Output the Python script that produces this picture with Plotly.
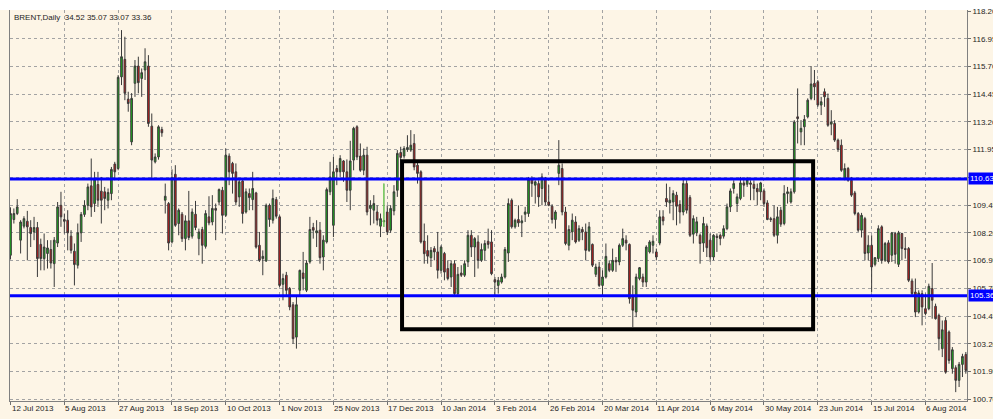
import plotly.graph_objects as go

# ---------------- data ----------------
# daily bars, index 0 = 12 Jul 2013
opens = [
107.19,108.80,109.07,107.87,108.50,108.72,108.44,108.24,108.44,107.68,
107.04,107.27,107.45,106.81,107.74,109.44,108.80,108.77,108.05,107.37,
106.74,108.20,109.03,109.44,110.32,109.52,110.38,110.08,110.05,109.67,
109.97,111.30,111.10,115.23,116.02,114.23,112.30,114.94,115.72,115.16,
115.54,115.72,113.01,111.40,111.62,112.86,109.67,109.52,107.79,110.84,
108.62,109.04,107.94,108.74,108.05,109.04,107.94,108.35,107.59,108.92,
108.69,109.30,109.59,110.12,108.99,111.66,111.33,110.95,109.82,110.54,
109.14,109.97,109.70,110.00,107.64,107.04,106.93,109.44,108.77,109.70,
108.92,105.88,106.29,105.69,104.96,103.50,105.61,106.39,105.61,106.89,
108.44,108.20,108.32,107.11,107.79,110.05,108.54,111.10,110.95,111.44,
110.95,110.12,111.48,112.98,111.66,111.02,111.70,109.30,109.22,109.14,
108.50,108.70,109.14,108.32,109.19,110.12,111.82,111.66,111.96,111.93,
112.23,111.25,110.95,107.83,107.40,107.08,107.49,107.34,106.51,107.27,
106.59,106.21,106.81,105.46,106.39,106.29,106.89,108.09,107.56,107.79,
106.96,107.41,107.82,107.79,106.09,105.83,105.98,106.21,107.29,109.67,
108.47,108.80,108.65,109.04,109.07,110.60,110.35,110.42,110.20,110.60,
109.59,109.40,108.80,110.88,111.10,109.14,107.64,108.24,108.69,107.87,
108.35,108.24,107.41,107.68,106.33,106.66,105.83,106.21,106.81,106.51,
106.96,106.89,107.64,107.87,107.68,105.31,104.63,106.14,106.21,105.98,
107.34,107.64,107.34,107.74,108.92,109.75,109.55,109.59,109.90,109.48,
109.14,110.42,109.79,108.14,108.20,108.09,107.74,108.51,107.87,107.11,
108.05,108.09,108.05,108.39,109.37,110.20,109.52,109.75,110.45,110.39,
110.45,110.39,110.20,110.05,110.09,109.55,108.84,108.84,108.09,109.22,
108.62,109.97,109.59,110.05,113.43,112.75,112.98,113.43,114.26,114.94,
115.01,113.96,114.56,114.26,113.10,113.13,112.38,112.15,110.65,111.10,
110.57,110.00,109.07,108.32,108.84,107.29,107.64,106.78,107.04,108.47,
106.96,107.75,107.19,108.17,106.78,108.17,107.49,107.49,106.03,105.53,
104.63,105.46,104.78,104.78,105.69,104.89,104.48,102.98,104.25,103.73,
102.08,102.12,101.55,102.27,102.72,
]
highs = [
109.35,109.30,109.72,108.77,108.95,109.19,108.77,108.92,108.69,107.94,
108.17,107.87,107.87,108.01,109.59,110.05,109.07,109.22,108.32,107.72,
108.62,109.14,109.67,110.42,111.55,110.95,110.95,110.72,110.27,110.20,
111.17,111.40,115.31,117.34,117.04,114.56,114.50,115.99,116.14,115.61,
116.52,116.21,113.58,111.78,113.05,112.98,110.42,109.59,111.06,111.25,
109.30,109.14,108.99,110.09,109.30,109.64,108.39,108.47,109.22,109.85,
109.90,109.52,110.20,110.27,112.00,111.78,111.40,111.33,110.65,110.65,
110.20,110.20,110.95,110.05,108.24,107.41,109.52,109.52,110.15,109.82,
108.99,106.36,106.44,105.76,105.08,105.31,106.54,107.34,106.96,108.92,
108.65,108.77,108.69,108.09,110.24,111.40,111.62,111.25,111.70,111.48,
111.51,112.35,112.98,113.05,112.23,112.00,112.08,109.67,109.90,109.44,
109.07,110.42,109.44,109.44,110.35,111.93,112.08,112.11,112.60,112.83,
112.65,111.40,111.02,108.62,108.09,107.56,107.60,108.24,107.64,107.34,
106.96,106.96,106.96,106.66,106.74,106.96,108.32,108.32,108.01,108.09,
107.72,107.87,108.39,108.32,106.21,106.21,106.36,107.56,109.75,109.75,
108.84,109.44,108.99,109.37,110.72,110.75,110.57,110.57,110.88,110.72,
110.35,109.49,109.22,112.38,111.33,109.37,108.54,109.07,108.95,108.54,
108.47,108.62,108.69,107.72,106.81,106.89,106.51,107.72,106.96,107.49,
107.11,107.72,108.39,108.09,107.72,105.83,106.36,106.66,106.36,107.64,
107.87,108.09,107.49,109.22,109.22,110.42,110.27,110.12,110.05,109.67,
110.65,110.57,109.90,108.99,108.92,108.17,108.92,108.62,108.17,108.14,
108.17,108.17,108.54,109.52,110.20,110.57,109.97,110.72,110.65,110.72,
110.57,110.57,110.42,110.50,110.20,109.67,108.92,109.44,109.37,109.37,
110.35,110.27,110.20,113.28,114.71,113.28,113.51,114.26,115.72,115.54,
115.09,114.33,114.71,114.48,113.73,113.28,112.45,112.41,111.33,111.17,
110.72,110.09,109.14,109.10,108.92,108.09,108.09,107.11,108.54,108.54,
107.79,107.87,108.24,108.24,108.29,108.20,108.01,107.56,106.14,106.14,
105.61,105.61,105.46,105.91,106.84,105.01,104.56,104.25,104.40,103.80,
103.05,102.23,102.38,102.75,102.83,
]
lows = [
107.00,108.62,109.00,107.27,108.40,106.96,107.56,107.87,106.21,106.51,
106.51,106.59,106.59,105.76,107.56,108.47,108.17,107.41,107.27,105.83,
106.59,107.79,108.92,109.22,108.92,109.14,109.37,108.62,109.22,109.30,
109.67,110.57,111.02,114.86,114.18,113.66,112.15,114.33,114.49,114.33,
115.09,112.98,110.62,111.33,111.50,112.53,109.07,107.41,107.72,108.47,
108.09,107.79,107.41,107.87,107.94,108.32,107.19,106.81,107.49,108.54,
108.54,107.87,109.44,108.17,108.92,110.35,109.97,109.44,109.37,108.62,
109.07,109.22,109.22,107.49,106.89,106.29,106.89,108.47,108.62,108.84,
105.76,105.16,105.38,104.71,103.20,102.98,105.31,105.61,105.53,106.81,
107.94,107.56,106.81,106.51,107.72,109.90,108.01,110.35,110.72,110.50,
109.59,109.22,111.02,111.48,110.95,110.80,108.99,108.54,108.62,108.54,
108.01,108.47,108.10,108.20,108.99,109.82,111.48,111.55,111.85,111.85,
111.02,110.42,107.72,106.81,106.81,106.66,106.96,106.14,106.36,106.06,
106.06,105.76,105.40,105.38,106.21,106.21,106.66,107.11,106.21,106.59,
106.89,106.96,107.49,106.29,105.38,105.46,105.91,106.14,106.89,108.39,
108.39,108.47,108.01,108.69,108.92,109.82,109.52,109.37,109.44,109.44,
109.40,108.62,108.39,110.35,108.99,107.64,107.41,107.87,107.72,107.79,
107.87,106.96,107.34,106.66,106.21,105.76,105.31,106.14,106.43,106.44,
106.44,106.74,107.56,107.41,105.01,103.95,104.40,106.06,105.76,105.76,
107.27,107.27,106.96,107.64,108.54,109.37,109.07,108.77,108.54,108.62,
108.99,109.07,108.01,107.72,108.05,106.81,107.34,107.11,106.89,106.96,
107.34,107.64,107.94,108.32,109.14,109.97,109.14,109.67,109.82,110.27,
109.67,109.67,109.44,109.67,109.37,108.77,108.69,108.01,107.72,108.47,
108.54,109.52,109.52,109.97,112.23,112.15,112.15,113.36,114.18,114.18,
113.88,113.51,113.88,112.98,112.60,112.30,111.85,110.95,110.57,110.50,
109.82,108.99,108.24,107.99,106.96,106.96,105.53,106.69,106.89,106.81,
106.89,106.81,106.89,106.81,106.66,106.96,107.04,105.98,105.38,104.40,
104.56,104.03,104.48,104.71,104.33,104.29,102.90,102.60,101.85,102.30,
101.85,101.02,101.25,101.70,101.85,
]
closes = [
109.07,109.07,109.37,108.69,108.84,108.47,108.17,108.44,107.04,107.04,
107.56,107.52,106.84,107.87,109.37,108.92,108.72,108.20,107.41,106.77,
108.20,109.03,109.44,110.27,109.37,110.62,109.67,109.67,109.75,110.02,
111.06,110.95,115.21,116.14,114.49,114.03,114.26,115.72,114.97,115.42,
115.91,113.13,111.48,111.62,112.98,112.71,109.85,107.74,110.70,108.54,
109.22,107.94,108.74,107.99,109.14,108.44,108.24,107.64,109.07,108.65,
109.30,109.22,110.15,108.99,111.70,110.95,110.88,109.59,110.50,109.07,
110.05,109.79,110.20,107.56,106.96,107.14,109.44,108.80,109.75,108.95,
105.83,106.14,105.61,104.86,103.43,104.96,106.51,106.14,106.84,108.35,
108.32,108.29,107.08,107.87,110.15,110.72,110.95,110.95,111.55,110.95,
110.12,111.44,112.91,111.62,111.02,111.70,109.14,109.44,109.52,108.77,
108.84,108.75,108.24,109.30,110.05,111.78,111.60,112.00,112.05,112.15,
111.17,110.88,107.79,107.26,107.15,107.41,107.34,106.51,107.56,106.43,
106.14,106.81,105.46,106.33,106.29,106.81,108.09,107.56,107.94,106.96,
107.45,107.72,107.68,106.36,105.98,106.06,106.21,107.45,109.52,108.47,
108.77,108.65,108.74,109.14,110.60,110.42,110.50,109.82,110.72,109.59,
109.44,108.80,109.14,111.25,109.14,107.72,108.35,108.77,107.79,108.39,
108.24,107.41,108.47,106.74,106.66,105.83,106.21,107.14,106.51,106.96,
106.89,107.64,107.94,107.74,105.23,104.71,106.21,106.63,105.98,107.56,
107.79,107.82,107.11,108.92,108.74,109.59,109.67,109.97,109.40,109.14,
110.42,109.22,108.09,108.84,108.70,107.72,108.62,107.53,107.11,108.09,
107.99,107.94,108.39,109.37,110.09,110.42,109.82,110.45,110.35,110.60,
110.39,110.20,110.05,110.45,109.52,108.80,108.80,108.09,108.92,108.59,
109.97,110.05,110.05,113.20,113.35,112.91,113.31,114.18,114.91,114.78,
113.96,114.11,114.33,113.05,113.20,112.38,111.96,111.02,111.10,110.57,
109.90,109.07,108.32,108.99,107.27,107.64,106.66,107.08,108.39,106.96,
107.72,106.89,108.20,107.23,108.20,107.49,107.45,106.06,105.46,104.63,
105.49,104.86,104.56,105.79,105.16,104.33,103.43,103.83,101.92,102.45,
102.93,101.55,102.27,102.63,102.00,
]

date_ticks = [0, 16, 32, 48, 64, 80, 96, 112, 128, 144, 160, 176, 192, 208, 224, 240, 256, 272]
date_labels = ["12 Jul 2013", "5 Aug 2013", "27 Aug 2013", "18 Sep 2013", "10 Oct 2013",
               "1 Nov 2013", "25 Nov 2013", "17 Dec 2013", "10 Jan 2014", "3 Feb 2014",
               "26 Feb 2014", "20 Mar 2014", "11 Apr 2014", "6 May 2014", "30 May 2014",
               "23 Jun 2014", "15 Jul 2014", "6 Aug 2014"]
price_ticks = [100.70, 101.95, 103.20, 104.45, 105.70, 106.95, 108.20, 109.45,
               110.70, 111.95, 113.20, 114.45, 115.70, 116.95, 118.20]
levels = [110.63, 105.36]                 # horizontal support / resistance lines
range_box_x = [116.4, 238.6]              # bar index of the range rectangle
range_box_y = [103.85, 111.43]            # price bounds of the range rectangle
highlight_bar = 111                       # bar drawn as a light green line
header = "BRENT,Daily\u00a0\u00a034.52 35.07 33.07 33.36"

# ---------------- figure ----------------
FONT = "Liberation Sans, Arial, sans-serif"
BG = "#FDF5E6"
GRID = "#A3A3A3"

idx = list(range(len(closes)))

fig = go.Figure()
fig.add_trace(go.Candlestick(
    x=idx, open=opens, high=highs, low=lows, close=closes,
    increasing=dict(fillcolor="#18B418", line=dict(color="#3A3A3A", width=1)),
    decreasing=dict(fillcolor="#C81818", line=dict(color="#3A3A3A", width=1)),
    whiskerwidth=0, showlegend=False, hoverinfo="skip",
))
fig.add_trace(go.Scatter(
    x=[highlight_bar, highlight_bar], y=[lows[highlight_bar], highs[highlight_bar]],
    mode="lines", line=dict(color="#7CFC5A", width=1), showlegend=False, hoverinfo="skip",
))

shapes = []
# white strip above the chart window
shapes.append(dict(type="rect", xref="paper", yref="paper", x0=-0.02, x1=1.04,
                   y0=1.0, y1=1.04, fillcolor="white", line=dict(width=0), layer="below"))
for v in levels:
    shapes.append(dict(type="line", xref="paper", yref="y", x0=0, x1=1, y0=v, y1=v,
                       line=dict(color="#0000FF", width=3)))
shapes.append(dict(type="rect", xref="x", yref="y",
                   x0=range_box_x[0], x1=range_box_x[1], y0=range_box_y[0], y1=range_box_y[1],
                   line=dict(color="#000000", width=4)))

annotations = []
for t, lab in zip(date_ticks, date_labels):
    annotations.append(dict(x=t, xref="x", y=0, yref="paper", text=lab, showarrow=False,
                            xanchor="left", yanchor="top", yshift=-2, borderpad=0,
                            font=dict(family=FONT, size=8, color="#1E1E1E")))
for v in levels:
    annotations.append(dict(x=1, xref="paper", y=v, yref="y", text=f"{v:.2f}", showarrow=False,
                            xanchor="left", yanchor="middle", xshift=1, bgcolor="#0000FF",
                            borderpad=1, font=dict(family=FONT, size=8, color="white")))
annotations.append(dict(x=0, xref="paper", y=1, yref="paper", text=header, showarrow=False,
                        xanchor="left", yanchor="top", xshift=3, yshift=-2, borderpad=0,
                        font=dict(family=FONT, size=8, color="#1E1E1E")))

fig.update_layout(
    width=993, height=419,
    margin=dict(l=10, r=26, t=10, b=18, autoexpand=False),
    paper_bgcolor=BG, plot_bgcolor=BG,
    boxgap=0.3,
    shapes=shapes, annotations=annotations,
    xaxis=dict(range=[-0.15, 284.35], tickvals=date_ticks, showticklabels=False,
               ticks="outside", ticklen=3, tickcolor="#707070", automargin=False,
               showgrid=True, gridcolor=GRID, griddash="3px,3px", gridwidth=1,
               zeroline=False, showline=True, linecolor="#808080", linewidth=1,
               rangeslider=dict(visible=False), fixedrange=True),
    yaxis=dict(side="right", range=[100.62, 118.245], tickvals=price_ticks,
               ticktext=[f"{p:.2f}" for p in price_ticks], automargin=False,
               ticks="outside", ticklen=3, tickcolor="#707070",
               tickfont=dict(family=FONT, size=8, color="#1E1E1E"),
               showgrid=True, gridcolor=GRID, griddash="3px,3px", gridwidth=1,
               zeroline=False, showline=True, mirror=True, linecolor="#808080", linewidth=1,
               fixedrange=True),
)

fig.write_html("out.html", config={"displayModeBar": False},
               post_script="document.body.style.margin='0px';document.body.style.overflow='hidden';")
